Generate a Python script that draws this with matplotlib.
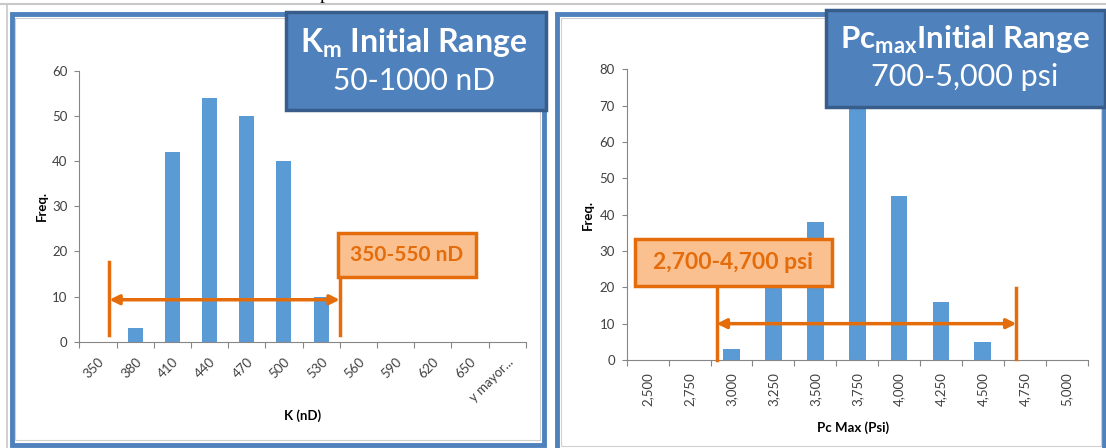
import numpy as np
import matplotlib.pyplot as plt
from matplotlib.patches import Rectangle

plt.rcParams['font.family'] = ['Lato', 'DejaVu Sans']

# histogram of K (nD)
k_bins = ["350", "380", "410", "440", "470", "500", "530", "560", "590", "620", "650", "y mayor..."]
k_freq = [0, 3, 42, 54, 50, 40, 10, 0, 0, 0, 0, 0]

# histogram of Pc max (psi)
pc_bins = ["2,500", "2,750", "3,000", "3,250", "3,500", "3,750", "4,000", "4,250", "4,500", "4,750", "5,000"]
pc_freq = [0, 0, 3, 20, 38, 73, 45, 16, 5, 0, 0]

W, H = 1106, 448
BAR = "#5B9BD5"
AXIS = "#868686"
TICKTXT = "#404040"
ORANGE = "#E46C0A"
ORANGE_FILL = "#FAC090"
BLUE = "#4F81BD"
BLUE_EDGE = "#385D8A"


def fx(px):
    return px / W


def fy(py):
    return 1 - py / H


def add_axes(x0, x1, ytop, ybot):
    return fig.add_axes([fx(x0), fy(ybot), fx(x1) - fx(x0), fy(ytop) - fy(ybot)])


def draw_hist(ax, freq, labels, ymax, rot):
    n = len(labels)
    ax.bar(np.arange(n), freq, width=0.4, color=BAR, zorder=2)
    ax.set_xlim(-0.5, n - 0.5)
    ax.set_ylim(0, ymax)
    ax.set_yticks(np.arange(0, ymax + 1, 10))
    # tick marks sit between categories, labels under the bars
    ax.set_xticks(np.arange(n + 1) - 0.5)
    ax.set_xticklabels([])
    ax.set_xticks(np.arange(n), minor=True)
    if rot == 45:
        ax.set_xticklabels(labels, minor=True, rotation=45, ha="right", va="top",
                           rotation_mode="anchor")
    else:
        ax.set_xticklabels(labels, minor=True, rotation=90, ha="center", va="top")
    ax.tick_params(axis="x", which="minor", length=0, pad=10 if rot == 45 else 9,
                   labelsize=9.5, labelcolor=TICKTXT)
    ax.tick_params(axis="x", which="major", length=4, color=AXIS, width=0.8)
    ax.tick_params(axis="y", length=3.5, color=AXIS, width=0.8, labelsize=9.5,
                   labelcolor=TICKTXT, pad=5)
    for s in ["top", "right"]:
        ax.spines[s].set_visible(False)
    for s in ["left", "bottom"]:
        ax.spines[s].set_color(AXIS)
        ax.spines[s].set_linewidth(0.8)
    ax.patch.set_alpha(0)


fig = plt.figure(figsize=(W / 100, H / 100), dpi=100)

# page line and panel frames
fig.add_artist(plt.Line2D([0, 1], [fy(4), fy(4)], color="#C8C8C8", lw=1.5))
fig.add_artist(plt.Line2D([fx(7), fx(7)], [fy(4), 0], color="#C8C8C8", lw=1.2))
fig.text(fx(325), fy(-1), "p", family="Liberation Serif", fontsize=14,
         ha="center", va="baseline", color="black")

fig.add_artist(Rectangle((fx(11.5), fy(444.5)), fx(532.5), fy(14.5) - fy(444.5),
                         transform=fig.transFigure, fill=False, ec=BLUE, lw=3.5))
fig.add_artist(Rectangle((fx(15), fy(440)), fx(525), fy(18) - fy(440),
                         transform=fig.transFigure, fill=False, ec="#D0D0D0", lw=0.8))
fig.add_artist(Rectangle((fx(557), fy(460)), fx(546.5), fy(14.5) - fy(460),
                         transform=fig.transFigure, fill=False, ec=BLUE, lw=3.5))
fig.add_artist(Rectangle((fx(561), fy(446)), fx(540), fy(18) - fy(446),
                         transform=fig.transFigure, fill=False, ec="#D0D0D0", lw=0.8))

ax1 = add_axes(79.3, 525.7, 71, 341.7)
ax2 = add_axes(626.7, 1087.6, 69.3, 360)
draw_hist(ax1, k_freq, k_bins, 60, 45)
draw_hist(ax2, pc_freq, pc_bins, 80, 90)

fig.text(fx(42), fy(206), "Freq.", rotation=90, ha="center", va="center",
         fontsize=9.5, fontweight="bold", color="black")
fig.text(fx(302.5), fy(416), "K (nD)", ha="center", va="center",
         fontsize=9.5, fontweight="bold", color="black")
fig.text(fx(588), fy(215), "Freq.", rotation=90, ha="center", va="center",
         fontsize=9.5, fontweight="bold", color="black")
fig.text(fx(853), fy(428), "Pc Max (Psi)", ha="center", va="center",
         fontsize=9.5, fontweight="bold", color="black")

# range markers, left
k_lo, k_hi, k_y = 0.31, 6.5, 9.3
ax1.plot([k_lo, k_lo], [1.5, 17.7], color=ORANGE, lw=2.5, clip_on=False, zorder=4)
ax1.plot([k_hi, k_hi], [1.5, 16.6], color=ORANGE, lw=2.5, clip_on=False, zorder=4)
ax1.annotate("", xy=(k_hi, k_y), xytext=(k_lo, k_y),
             arrowprops=dict(arrowstyle="<|-|>", color=ORANGE, lw=2.5,
                             mutation_scale=14, shrinkA=0, shrinkB=0), zorder=4)
ax1.add_patch(Rectangle((6.454, 14.4), 10.16 - 6.454, 24.2 - 14.4, fc=ORANGE_FILL,
                        ec=ORANGE, lw=2.5, clip_on=False, zorder=5))
ax1.text((6.454 + 10.16) / 2, 19.3, "350-550 nD", ha="center", va="center",
         fontsize=15, fontweight="bold", color=ORANGE, zorder=6, clip_on=False)

# range markers, right
p_lo, p_hi, p_y = 1.648, 8.80, 10.0
ax2.plot([p_lo, p_lo], [0, 20.4], color=ORANGE, lw=2.5, clip_on=False, zorder=4)
ax2.plot([p_hi, p_hi], [0.3, 19.8], color=ORANGE, lw=2.5, clip_on=False, zorder=4)
ax2.annotate("", xy=(p_hi, p_y), xytext=(p_lo, p_y),
             arrowprops=dict(arrowstyle="<|-|>", color=ORANGE, lw=2.5,
                             mutation_scale=14, shrinkA=0, shrinkB=0), zorder=4)
ax2.add_patch(Rectangle((-0.30, 20.4), 4.39 + 0.30, 33.3 - 20.4, fc=ORANGE_FILL,
                        ec=ORANGE, lw=2.5, clip_on=False, zorder=5))
ax2.text((-0.30 + 4.39) / 2, 26.85, "2,700-4,700 psi", ha="center", va="center",
         fontsize=16.5, fontweight="bold", color=ORANGE, zorder=6, clip_on=False)

# title boxes
fig.add_artist(Rectangle((fx(286), fy(110)), fx(260), fy(12.5) - fy(110),
                         transform=fig.transFigure, fc=BLUE, ec=BLUE_EDGE, lw=2.5, zorder=5))
fig.text(fx(414), fy(43), r"K$_\mathregular{m}$ Initial Range", ha="center", va="center",
         fontsize=23, fontweight="bold", color="white", zorder=6)
fig.text(fx(414), fy(81), "50-1000 nD", ha="center", va="center",
         fontsize=21.5, color="white", zorder=6)

fig.add_artist(Rectangle((fx(826), fy(107)), fx(279), fy(10.5) - fy(107),
                         transform=fig.transFigure, fc=BLUE, ec=BLUE_EDGE, lw=2.5, zorder=5))
fig.text(fx(965), fy(40), r"Pc$_\mathregular{max}$Initial Range", ha="center", va="center",
         fontsize=22.5, fontweight="bold", color="white", zorder=6)
fig.text(fx(965), fy(77), "700-5,000 psi", ha="center", va="center",
         fontsize=22, color="white", zorder=6)

fig.savefig("out.png", dpi=100)
